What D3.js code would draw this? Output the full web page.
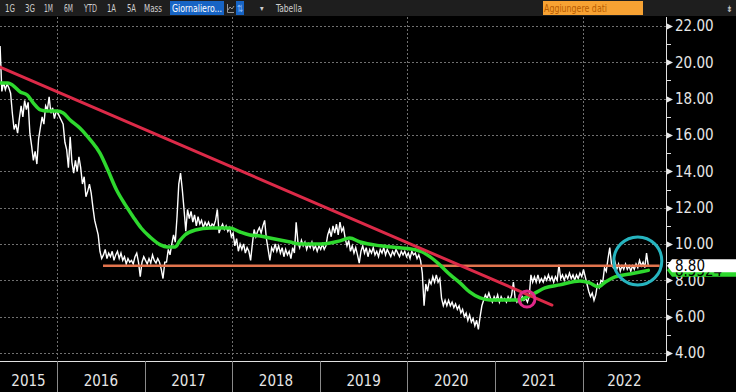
<!DOCTYPE html>
<html><head><meta charset="utf-8">
<script src="https://cdn.jsdelivr.net/npm/d3@7"></script>
<style>
html,body{margin:0;padding:0;background:#000;overflow:hidden}
svg{display:block}
text{font-family:"Liberation Sans Narrow","DejaVu Sans Condensed","Roboto",sans-serif;font-stretch:condensed}
</style></head><body>
<svg id="chart" width="736" height="392"></svg>
<script>
// ---------------- DATA ----------------
const yearLabels = [2015, 2016, 2017, 2018, 2019, 2020, 2021, 2022];
const yearBoundaries = [2016, 2017, 2018, 2019, 2020, 2021, 2022];
const gridYears = [2016, 2018, 2020, 2022];
const yTicks = [4, 6, 8, 10, 12, 14, 16, 18, 20, 22];
const yMinorTicks = [5, 7, 9, 11, 13, 15, 17, 19, 21];
const toolbarItems = ["1G", "3G", "1M", "6M", "YTD", "1A", "5A", "Mass"];

// weekly closes (decimal-year start & step)
const closeStart = 2015.35, closeStep = 0.02;
const closes = [
 20.9,18.4,18.9,18.5,18.8,18.6,18.3,17.2,16.3,16.6,16.1,16.9,17.6,17.0,17.9,17.4,17.8,16.1,15.4,14.6,15.1,14.4,15.8,16.4,17.0,16.6,17.6,17.4,18.1,17.2,17.5,16.9,17.3,
 17.2,17.0,16.8,16.6,15.6,15.2,14.2,15.9,14.5,13.9,14.6,14.0,14.8,14.2,13.3,13.7,12.6,12.9,13.3,12.8,12.0,11.3,10.9,10.5,9.6,9.2,9.4,9.7,9.2,9.5,9.3,9.6,9.1,9.4,9.6,9.2,9.5,9.1,9.3,8.9,9.2,9.0,9.1,8.9,9.3,9.5,9.0,8.2,9.0,9.3,
 9.1,8.9,9.2,8.95,9.4,9.1,8.95,9.2,9.0,8.6,8.1,9.0,9.0,9.7,9.4,10.0,10.5,10.1,11.5,13.3,13.9,13.0,11.9,10.7,11.9,11.4,11.8,11.2,11.6,11.0,11.5,11.1,11.3,10.9,11.2,11.0,11.2,10.9,11.1,11.0,11.3,11.9,10.6,10.9,11.1,10.8,11.0,10.7,10.9,10.4,
 10.6,9.9,10.3,9.6,10.0,9.7,10.0,9.5,9.8,9.6,9.1,10.0,10.8,10.4,10.7,10.9,10.6,11.0,11.3,10.3,9.7,9.1,9.8,9.6,10.0,9.6,9.9,9.5,9.8,9.3,9.7,9.4,9.6,9.2,9.8,9.5,11.2,10.1,9.8,10.2,9.9,10.1,9.7,10.0,9.8,10.1,9.7,9.9,9.6,9.9,
 9.7,10.0,9.7,9.9,10.5,10.8,10.4,11.0,10.6,11.1,10.5,11.2,10.7,10.9,10.3,9.9,10.2,9.6,9.9,9.5,9.8,9.4,8.95,9.6,9.9,9.5,9.8,9.3,9.7,9.5,9.8,9.4,9.6,9.3,9.7,9.5,9.8,9.4,9.7,9.5,9.3,9.6,9.4,9.7,9.5,9.3,9.6,9.4,9.6,9.3,
 9.5,9.2,9.6,9.4,9.5,9.2,9.4,9.1,8.4,6.6,7.8,7.4,8.0,7.8,8.2,7.9,8.3,7.9,8.1,7.0,6.6,6.9,6.6,6.9,6.6,6.8,6.5,6.7,6.4,6.6,6.2,6.4,6.0,6.2,5.8,6.1,5.7,5.9,5.5,5.8,5.3,6.0,6.6,6.9,7.2,7.0,7.3,7.0,6.8,7.1,
 6.9,7.2,6.8,7.1,6.9,7.0,6.8,7.1,6.9,7.2,7.9,7.0,6.8,7.0,6.8,7.1,6.9,7.0,6.8,7.1,8.3,7.9,8.2,7.9,8.3,7.9,8.1,7.9,8.2,8.0,8.3,8.0,8.2,7.9,8.2,8.0,8.85,8.1,8.3,8.0,8.3,8.1,8.4,8.1,8.3,8.0,8.3,8.1,8.4,8.2,
 8.6,8.2,7.8,7.4,7.1,7.3,6.9,7.2,7.8,7.6,8.0,7.9,8.7,8.5,9.2,9.8,8.9,8.7,9.0,8.6,8.9,8.5,8.8,8.6,8.9,8.6,8.8,8.5,8.8,8.6,8.9,8.7,9.1,8.8,9.0,8.7,9.5,8.8
];

// moving average (green)
const maYears = [2015.35,2015.44,2015.49,2015.58,2015.66,2015.73,2015.81,2015.89,2016.0,2016.07,2016.15,2016.26,2016.38,2016.49,2016.58,2016.68,2016.78,2016.87,2016.96,2017.06,2017.18,2017.26,2017.35,2017.40,2017.46,2017.58,2017.75,2017.97,2018.09,2018.20,2018.32,2018.43,2018.66,2018.77,2019.0,2019.12,2019.23,2019.34,2019.46,2019.69,2019.91,2020.09,2020.17,2020.26,2020.37,2020.49,2020.60,2020.71,2020.83,2020.94,2021.17,2021.29,2021.34,2021.46,2021.57,2021.74,2021.97,2022.08,2022.18,2022.26,2022.37,2022.54,2022.75];
const maValues = [18.86,18.86,18.75,18.37,18.2,17.76,17.38,17.32,17.32,17.21,16.83,16.39,15.73,15.0,14.07,12.97,12.15,11.49,10.88,10.39,9.95,9.84,9.84,10.17,10.5,10.77,10.88,10.88,10.66,10.5,10.44,10.33,10.11,10.0,10.0,10.06,10.17,10.33,10.11,9.9,9.79,9.68,9.56,9.29,8.85,8.3,7.86,7.36,7.03,6.92,6.92,6.92,7.03,7.31,7.58,7.75,7.97,7.86,7.64,7.91,8.19,8.35,8.55];
const maLabel = "8.5524";

// red trend line
const trendYears = [2015.349, 2021.65];
const trendValues = [19.74, 6.64];

// horizontal level
const levelValue = 8.80;
const levelYears = [2016.525, 2022.88];
const levelLabel = "8.80";

// highlight circles
const circleYears = [2021.365, 2022.63];
const circleValues = [6.97, 9.07];
const circleRadii = [8, 24];
const circleColors = ["#e0288a", "#26b4bf"];

// ---------------- CHART ----------------
const W = 736, H = 392;
const plotRight = 666, plotTop = 17, plotBottom = 361;
const svg = d3.select("#chart");
const x = d3.scaleLinear().domain([2015.349, 2022.952]).range([0, plotRight]);
const y = d3.scaleLinear().domain([4, 22]).range([353, 26]);

svg.append("rect").attr("width", W).attr("height", H).attr("fill", "#000");

svg.append("defs").append("clipPath").attr("id", "plotClip")
  .append("rect").attr("x", 0).attr("y", plotTop).attr("width", plotRight).attr("height", plotBottom - plotTop);

// grid
const grid = svg.append("g");
grid.selectAll("line.h").data(yTicks).join("line").attr("class", "h")
  .attr("x1", 0).attr("x2", plotRight)
  .attr("y1", d => Math.round(y(d)) + 0.5).attr("y2", d => Math.round(y(d)) + 0.5)
  .attr("stroke", "#707070").attr("stroke-dasharray", "2,2");
grid.selectAll("line.v").data(gridYears).join("line").attr("class", "v")
  .attr("x1", d => Math.round(x(d)) + 0.5).attr("x2", d => Math.round(x(d)) + 0.5)
  .attr("y1", plotTop).attr("y2", plotBottom)
  .attr("stroke", "#707070").attr("stroke-dasharray", "2,2");

const plot = svg.append("g").attr("clip-path", "url(#plotClip)");

// price line
const priceData = closes.map((v, i) => [closeStart + i * closeStep, v]);
plot.append("path").datum(priceData)
  .attr("fill", "none").attr("stroke", "#ffffff").attr("stroke-width", 1.4)
  .attr("d", d3.line().x(d => x(d[0])).y(d => y(d[1])));

// orange level
plot.append("line")
  .attr("x1", x(levelYears[0])).attr("x2", x(levelYears[1]))
  .attr("y1", y(levelValue)).attr("y2", y(levelValue))
  .attr("stroke", "#e2744e").attr("stroke-width", 2.5);

// green MA
const maData = maYears.map((t, i) => [t, maValues[i]]);
plot.append("path").datum(maData)
  .attr("fill", "none").attr("stroke", "#2ed82e").attr("stroke-width", 3.5)
  .attr("stroke-linejoin", "round").attr("stroke-linecap", "round")
  .attr("d", d3.line().curve(d3.curveMonotoneX).x(d => x(d[0])).y(d => y(d[1])));

// red trend
plot.append("line")
  .attr("x1", x(trendYears[0])).attr("y1", y(trendValues[0]))
  .attr("x2", x(trendYears[1])).attr("y2", y(trendValues[1]))
  .attr("stroke", "#dc2a48").attr("stroke-width", 3).attr("stroke-linecap", "round");

// circles
plot.selectAll("circle.hl").data(circleYears).join("circle").attr("class", "hl")
  .attr("cx", (d) => x(d)).attr("cy", (d, i) => y(circleValues[i]))
  .attr("r", (d, i) => circleRadii[i])
  .attr("fill", "none").attr("stroke", (d, i) => circleColors[i]).attr("stroke-width", 3);

// right axis
const ax = svg.append("g").attr("transform", `translate(${plotRight},0)`);
ax.append("line").attr("x1", 0.5).attr("x2", 0.5).attr("y1", plotTop).attr("y2", plotBottom + 1)
  .attr("stroke", "#e0e0e0");
ax.selectAll("path.tri").data(yTicks).join("path").attr("class", "tri")
  .attr("d", d => { const yy = Math.round(y(d)) + 0.5; return `M1,${yy - 3}L7,${yy}L1,${yy + 3}Z`; })
  .attr("fill", "#e8e8e8");
ax.selectAll("line.minor").data(yMinorTicks).join("line").attr("class", "minor")
  .attr("x1", 0).attr("x2", 5)
  .attr("y1", d => Math.round(y(d)) + 0.5).attr("y2", d => Math.round(y(d)) + 0.5)
  .attr("stroke", "#e0e0e0");
ax.selectAll("text.lab").data(yTicks).join("text").attr("class", "lab")
  .attr("x", 9).attr("y", d => y(d)).attr("dy", "0.36em")
  .attr("fill", "#e6e6e6").attr("font-size", 15)
  .text(d3.format(".2f"));

// green MA label
const maY = y(maValues[maValues.length - 1]);
ax.append("path")
  .attr("d", `M1,${maY}L6,${maY - 6.5}L70,${maY - 6.5}L70,${maY + 6.5}L6,${maY + 6.5}Z`)
  .attr("fill", "#2ed82e");
ax.append("text").attr("x", 9).attr("y", maY).attr("dy", "0.36em")
  .attr("fill", "#000").attr("font-size", 15).text(maLabel);

// white level label
const lvY = y(levelValue);
ax.append("path")
  .attr("d", `M1,${lvY}L6,${lvY - 6.5}L70,${lvY - 6.5}L70,${lvY + 6.5}L6,${lvY + 6.5}Z`)
  .attr("fill", "#ffffff");
ax.append("text").attr("x", 9).attr("y", lvY).attr("dy", "0.36em")
  .attr("fill", "#000").attr("font-size", 15).text(levelLabel);

// bottom axis
const bx = svg.append("g");
bx.append("line").attr("x1", 0).attr("x2", plotRight + 1).attr("y1", plotBottom + 0.5).attr("y2", plotBottom + 0.5)
  .attr("stroke", "#e0e0e0");
bx.selectAll("line.sep").data(yearBoundaries).join("line").attr("class", "sep")
  .attr("x1", d => Math.round(x(d)) + 0.5).attr("x2", d => Math.round(x(d)) + 0.5)
  .attr("y1", plotBottom).attr("y2", H)
  .attr("stroke", "#8a8a8a");
const [d0, d1] = x.domain();
bx.selectAll("text.yr").data(yearLabels).join("text").attr("class", "yr")
  .attr("x", d => (x(Math.max(d, d0)) + x(Math.min(d + 1, d1))) / 2)
  .attr("y", 386).attr("text-anchor", "middle")
  .attr("fill", "#e6e6e6").attr("font-size", 15)
  .text(d => d);

// toolbar
const tb = svg.append("g");
tb.append("rect").attr("width", W).attr("height", 16).attr("fill", "#1e1e1e");
const tbX = [5, 25, 44, 64, 84, 107, 127, 144];
const tbW = [10, 10, 9, 9, 13, 9, 9, 18];
tb.selectAll("text.tb").data(toolbarItems).join("text").attr("class", "tb")
  .attr("x", (d, i) => tbX[i]).attr("y", 12)
  .attr("textLength", (d, i) => tbW[i]).attr("lengthAdjust", "spacingAndGlyphs")
  .attr("fill", "#cfcfcf").attr("font-size", 11).text(d => d);
tb.append("rect").attr("x", 170).attr("y", 1).attr("width", 54).attr("height", 14).attr("fill", "#1764c4");
tb.append("text").attr("x", 172).attr("y", 12).attr("fill", "#ffffff").attr("font-size", 11)
  .attr("textLength", 50).attr("lengthAdjust", "spacingAndGlyphs").text("Giornaliero...");
// chart-type icon
tb.append("path").attr("d", "M227.5,4V12.5H234M228,10L230,7L232,9L234,6").attr("fill", "none").attr("stroke", "#9a9a9a").attr("stroke-width", 1);
tb.append("rect").attr("x", 236).attr("y", 1).attr("width", 8).attr("height", 14).attr("fill", "#1764c4");
tb.append("text").attr("x", 237).attr("y", 12).attr("fill", "#8fc0ff").attr("font-size", 10)
  .attr("textLength", 6).attr("lengthAdjust", "spacingAndGlyphs").text("⇅");
tb.append("text").attr("x", 260).attr("y", 11).attr("fill", "#cfcfcf").attr("font-size", 8).text("▾");
tb.append("text").attr("x", 276).attr("y", 12).attr("fill", "#cfcfcf").attr("font-size", 11)
  .attr("textLength", 26).attr("lengthAdjust", "spacingAndGlyphs").text("Tabella");
tb.append("rect").attr("x", 543).attr("y", 1).attr("width", 100).attr("height", 14).attr("fill", "#f7a233");
tb.append("text").attr("x", 544).attr("y", 12).attr("fill", "#b85c00").attr("font-size", 11)
  .attr("textLength", 63).attr("lengthAdjust", "spacingAndGlyphs").text("Aggiungere dati");
tb.append("text").attr("x", 726).attr("y", 12).attr("fill", "#cfcfcf").attr("font-size", 9).text("⇟");
</script>
</body></html>
